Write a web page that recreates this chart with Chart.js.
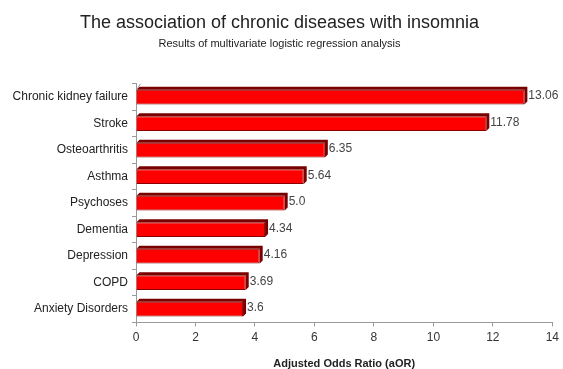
<!DOCTYPE html>
<html>
<head>
<meta charset="utf-8">
<script src="https://cdn.jsdelivr.net/npm/chart.js@4/dist/chart.umd.min.js"></script>
<style>
html,body{margin:0;padding:0;background:#fff;}
#wrap{width:563px;height:369px;}
</style>
</head>
<body>
<div id="wrap"><canvas id="c" width="563" height="369"></canvas></div>
<script>
const categories = ["Chronic kidney failure","Stroke","Osteoarthritis","Asthma","Psychoses","Dementia","Depression","COPD","Anxiety Disorders"];
const aorValues = [13.06, 11.78, 6.35, 5.64, 5.0, 4.34, 4.16, 3.69, 3.6];
const xTicks = [0, 2, 4, 6, 8, 10, 12, 14];

const FONT = "'Liberation Sans', Arial, sans-serif";

function fmt(v){ return Number.isInteger(v) ? v.toFixed(1) : String(v); }

const depthPlugin = {
  id: 'depth',
  beforeDatasetsDraw(chart){
    const ctx = chart.ctx;
    const meta = chart.getDatasetMeta(0);
    ctx.save();
    meta.data.forEach(bar => {
      const p = bar.getProps(['x','y','base','height'], true);
      const top = p.y - p.height/2, bot = p.y + p.height/2;
      const d = 3;
      ctx.fillStyle = '#7a0000';
      ctx.beginPath();
      ctx.moveTo(p.base, top);
      ctx.lineTo(p.base + d, top - d);
      ctx.lineTo(p.x + d, top - d);
      ctx.lineTo(p.x + d, bot - d);
      ctx.lineTo(p.x, bot);
      ctx.lineTo(p.x, top);
      ctx.closePath();
      ctx.fill();
    });
    const a = chart.chartArea;
    ctx.strokeStyle = '#9a9a9a';
    ctx.lineWidth = 1;
    ctx.beginPath();
    ctx.moveTo(a.left + 0.5, a.top + 6);
    ctx.lineTo(a.left + 4.5, a.top);
    ctx.stroke();
    ctx.restore();
  },
  afterDatasetsDraw(chart){
    const ctx = chart.ctx;
    const meta = chart.getDatasetMeta(0);
    ctx.save();
    ctx.font = '12px ' + FONT;
    ctx.fillStyle = '#444';
    ctx.textAlign = 'left';
    ctx.textBaseline = 'middle';
    meta.data.forEach((bar, i) => {
      ctx.fillText(fmt(aorValues[i]), bar.x + 4, bar.y - 1);
    });
    ctx.restore();
  }
};

new Chart(document.getElementById('c'), {
  type: 'bar',
  data: {
    labels: categories,
    datasets: [{
      data: aorValues,
      backgroundColor: '#ff0000',
      borderColor: '#8a0000',
      borderWidth: 1,
      categoryPercentage: 1.0,
      barPercentage: 0.56
    }]
  },
  options: {
    indexAxis: 'y',
    responsive: false,
    animation: false,
    layout: { padding: { left: 0, right: 4, bottom: -2, top: 0 } },
    plugins: {
      legend: { display: false },
      tooltip: { enabled: false },
      title: {
        display: true,
        text: 'The association of chronic diseases with insomnia',
        color: '#222',
        font: { family: FONT, size: 18, weight: 'normal' },
        padding: { top: 12, bottom: 2 }
      },
      subtitle: {
        display: true,
        text: 'Results of multivariate logistic regression analysis',
        color: '#222',
        font: { family: FONT, size: 11, weight: 'normal' },
        padding: { top: 2, bottom: 33 }
      }
    },
    scales: {
      x: {
        min: 0, max: 14,
        afterBuildTicks(s){ s.ticks = xTicks.map(v => ({ value: v })); },
        grid: { drawOnChartArea: false, color: '#999', tickLength: 4 },
        border: { color: '#999' },
        ticks: { color: '#333', font: { family: FONT, size: 12 }, padding: 4 },
        title: {
          display: true,
          text: 'Adjusted Odds Ratio (aOR)',
          color: '#222',
          font: { family: FONT, size: 11, weight: 'bold' },
          padding: { top: 9, bottom: 0 }
        }
      },
      y: {
        afterFit(s){ s.width = 136; },
        grid: { drawOnChartArea: false, color: '#999', tickLength: 4, offset: true },
        border: { color: '#999' },
        ticks: { color: '#222', font: { family: FONT, size: 12 }, padding: 4 }
      }
    }
  },
  plugins: [depthPlugin]
});
</script>
</body>
</html>
